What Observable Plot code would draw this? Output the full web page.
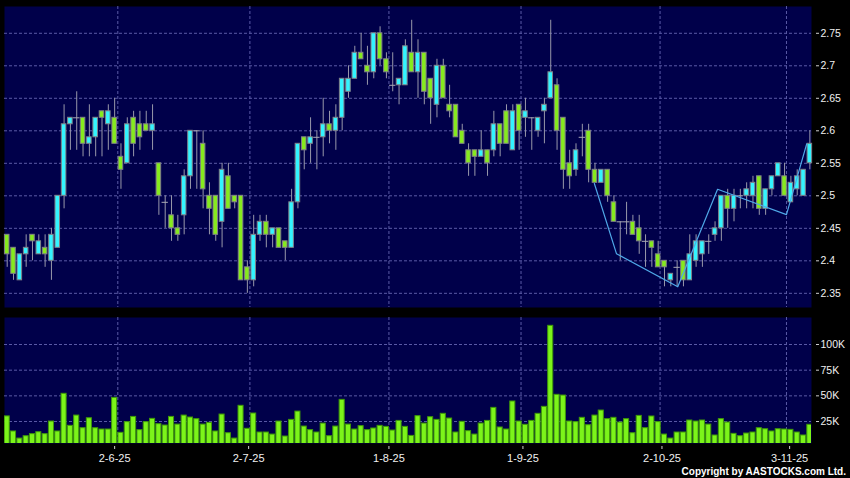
<!DOCTYPE html>
<html>
<head>
<meta charset="utf-8">
<script src="https://cdn.jsdelivr.net/npm/d3@7"></script>
<script src="https://cdn.jsdelivr.net/npm/@observablehq/plot@0.6"></script>
<style>
  html, body { margin: 0; padding: 0; background: #000; }
  #wrap { position: relative; width: 850px; height: 478px; background: #000; overflow: hidden; }
  #priceBox, #volBox { position: absolute; left: 0; }
  #priceBox { top: 0; }
  #volBox { top: 312px; }
  #copy { position: absolute; right: 4px; top: 466px; line-height: 12px; font: bold 10px "Liberation Sans", Arial, sans-serif; color: #fff; white-space: nowrap; }
</style>
</head>
<body>
<div id="wrap">
  <div id="priceBox"></div>
  <div id="volBox"></div>
  <div id="copy">Copyright by AASTOCKS.com Ltd.</div>
</div>
<script>
// ---- Data, one entry per trading day ----
const openPrice = [2.44,2.42,2.37,2.41,2.44,2.41,2.42,2.40,2.42,2.50,2.61,2.62,2.62,2.58,2.59,2.63,2.61,2.62,2.56,2.55,
  2.62,2.61,2.61,2.60,2.55,2.49,2.47,2.45,2.47,2.53,2.60,2.58,2.50,2.50,2.46,2.53,2.50,2.50,2.39,2.37,
  2.44,2.46,2.44,2.45,2.43,2.42,2.49,2.59,2.58,2.59,2.59,2.61,2.60,2.62,2.66,2.68,2.72,2.70,2.69,2.75,
  2.71,2.67,2.67,2.67,2.72,2.69,2.72,2.68,2.64,2.70,2.64,2.64,2.60,2.57,2.57,2.56,2.57,2.57,2.61,2.63,
  2.57,2.64,2.62,2.62,2.60,2.63,2.65,2.67,2.62,2.55,2.54,2.59,2.60,2.54,2.52,2.54,2.49,2.46,2.46,2.46,
  2.45,2.43,2.43,2.41,2.40,2.37,2.39,2.40,2.37,2.40,2.41,2.43,2.44,2.45,2.50,2.48,2.50,2.50,2.50,2.53,
  2.48,2.51,2.53,2.53,2.49,2.51,2.50,2.55];
const highPrice = [2.44,2.42,2.41,2.44,2.44,2.44,2.44,2.45,2.50,2.64,2.62,2.66,2.62,2.64,2.62,2.63,2.64,2.65,2.58,2.62,
  2.63,2.63,2.63,2.64,2.55,2.50,2.50,2.47,2.54,2.60,2.60,2.60,2.52,2.50,2.55,2.55,2.50,2.50,2.40,2.47,
  2.47,2.47,2.45,2.45,2.43,2.51,2.58,2.59,2.62,2.60,2.65,2.63,2.64,2.68,2.70,2.73,2.75,2.73,2.75,2.76,
  2.72,2.72,2.68,2.74,2.77,2.74,2.72,2.68,2.71,2.71,2.67,2.64,2.61,2.58,2.57,2.60,2.57,2.63,2.61,2.64,
  2.64,2.64,2.65,2.62,2.62,2.65,2.77,2.68,2.62,2.57,2.58,2.61,2.61,2.55,2.54,2.54,2.50,2.46,2.49,2.47,
  2.47,2.44,2.43,2.43,2.40,2.38,2.40,2.40,2.44,2.44,2.43,2.44,2.46,2.50,2.51,2.51,2.51,2.52,2.53,2.53,
  2.51,2.53,2.55,2.55,2.53,2.54,2.54,2.60];
const lowPrice = [2.39,2.37,2.37,2.39,2.40,2.41,2.39,2.37,2.42,2.48,2.57,2.57,2.56,2.56,2.56,2.56,2.57,2.58,2.51,2.55,
  2.56,2.57,2.60,2.57,2.47,2.45,2.43,2.43,2.44,2.51,2.51,2.48,2.44,2.43,2.42,2.48,2.48,2.37,2.35,2.36,
  2.43,2.42,2.42,2.42,2.40,2.42,2.48,2.54,2.55,2.54,2.56,2.58,2.57,2.60,2.65,2.68,2.71,2.67,2.68,2.70,
  2.68,2.66,2.64,2.67,2.69,2.65,2.64,2.61,2.62,2.65,2.62,2.59,2.58,2.53,2.53,2.56,2.53,2.56,2.56,2.58,
  2.57,2.57,2.59,2.57,2.59,2.58,2.65,2.57,2.51,2.51,2.53,2.56,2.52,2.52,2.52,2.49,2.46,2.40,2.44,2.44,
  2.41,2.39,2.39,2.39,2.36,2.36,2.36,2.36,2.37,2.39,2.39,2.41,2.43,2.43,2.45,2.46,2.48,2.48,2.48,2.47,
  2.47,2.50,2.53,2.50,2.49,2.50,2.50,2.54];
const closePrice = [2.41,2.38,2.41,2.42,2.43,2.43,2.41,2.44,2.50,2.61,2.62,2.62,2.58,2.59,2.62,2.62,2.63,2.58,2.54,2.61,
  2.58,2.59,2.60,2.61,2.50,2.49,2.45,2.44,2.53,2.60,2.60,2.51,2.48,2.44,2.54,2.48,2.49,2.37,2.37,2.44,
  2.46,2.44,2.45,2.42,2.42,2.49,2.58,2.57,2.59,2.59,2.61,2.60,2.62,2.68,2.68,2.72,2.71,2.69,2.75,2.71,
  2.69,2.67,2.68,2.73,2.69,2.72,2.66,2.65,2.70,2.65,2.63,2.59,2.58,2.55,2.56,2.57,2.55,2.61,2.58,2.58,
  2.63,2.60,2.63,2.62,2.62,2.64,2.69,2.60,2.54,2.53,2.57,2.59,2.54,2.52,2.54,2.50,2.46,2.46,2.46,2.44,
  2.43,2.43,2.42,2.39,2.39,2.38,2.39,2.37,2.41,2.43,2.43,2.43,2.45,2.50,2.48,2.50,2.50,2.51,2.52,2.48,
  2.51,2.53,2.55,2.50,2.52,2.53,2.54,2.58];
// volume in thousands of shares
const volumeK = [30,15.3,8.4,10.7,12.7,14.6,12.7,25,15.3,52,20.8,30.8,18.5,28.2,18.5,17.2,17.2,48,14,24.4,
  29.5,16.6,24.4,27.6,22.4,21.1,29.5,22,30.8,28.9,27.3,22,23.7,15.3,31.8,13.6,8.4,40.3,17.9,32.8,
  14.3,14.3,12.3,25,10.4,26.6,34.7,20.1,16.6,14.3,23,10.7,20.1,46.1,22,17.2,20.5,16.6,18.2,20.8,
  19.8,16.2,25.6,19.8,11,30.2,23,29.2,26.6,32.5,27.9,14.3,24.7,15.6,12.3,23,25.6,38.3,19.2,17.2,
  44.5,25,21.8,25.6,32.5,39.3,118.2,51,50.3,25,24.4,28.6,21.4,30.8,35.7,27.3,28.6,24,27.3,13.6,
  30.5,18.5,29.9,24.4,12.3,8.4,14.3,14.3,26,25,26,22,11.4,27.3,24,13,10.7,13.3,14.3,18.5,
  17.5,15.3,17.5,17.2,16.9,14.3,11.4,21.8];

// date axis labels and where they sit (in trading-day index units)
const tickLabels = ["2-6-25","2-7-25","1-8-25","1-9-25","2-10-25","3-11-25"];
const tickIndex = [17.0, 38.2, 60.4, 81.6, 103.6, 123.8];
const gridIndex = [17.5, 38.4, 60.4, 81.3, 103.3, 123.3];

const priceTicks = [2.35,2.4,2.45,2.5,2.55,2.6,2.65,2.7,2.75];
const volTicks = [25000,50000,75000,100000];
const volTickLabels = ["25K","50K","75K","100K"];

// overlay polyline (trend line drawn on the chart)
const lineIndex = [92.9, 96.4, 106.1, 112.4, 123.3, 126.5];
const linePrice = [2.519, 2.411, 2.36, 2.51, 2.471, 2.58];

// ---- Build ----
const candles = openPrice.map((o, i) => ({i, o, h: highPrice[i], l: lowPrice[i], c: closePrice[i], v: volumeK[i] * 1000}));
const bodies = candles.filter(d => d.o !== d.c);
const dojis = candles.filter(d => d.o === d.c);
const trend = lineIndex.map((x, k) => ({x, y: linePrice[k]}));

const NAVY = "#00004a";
const GRID = "#5a5aa6";
const CYAN = "#33f4ff";
const GREEN = "#86ea1e";
const FONT = '"Liberation Sans", Arial, sans-serif';
const xDomain = [-0.427, 127.26];
const fmtP = d => d3.format(".2~f")(d);

const priceChart = Plot.plot({
  width: 850, height: 312,
  marginLeft: 4, marginRight: 39, marginTop: 6, marginBottom: 5,
  style: {background: "transparent", color: "#e8e8e8", fontFamily: FONT, fontSize: "10.5px"},
  x: {domain: xDomain, axis: null},
  y: {domain: [2.3282, 2.7912], axis: null},
  color: {type: "identity"},
  marks: [
    Plot.frame({fill: NAVY, stroke: null}),
    Plot.ruleY(priceTicks, {stroke: GRID, strokeDasharray: "3,2"}),
    Plot.ruleX(gridIndex, {stroke: GRID, strokeDasharray: "3,2"}),
    Plot.ruleX(candles, {x: "i", y1: "l", y2: "h", stroke: "#9898aa", strokeWidth: 1}),
    Plot.rect(bodies, {
      x1: d => d.i - 0.36, x2: d => d.i + 0.36, y1: "o", y2: "c",
      fill: d => d.c > d.o ? CYAN : GREEN, stroke: "#808088", strokeWidth: 1
    }),
    Plot.ruleY(dojis, {y: "o", x1: d => d.i - 0.5, x2: d => d.i + 0.5, stroke: "#a8a8b4", strokeWidth: 1}),
    Plot.line(trend, {x: "x", y: "y", stroke: "#4fa8e8", strokeWidth: 1.2}),
    Plot.axisY(priceTicks, {anchor: "right", label: null, tickSize: 3, tickPadding: 2, dx: 4, tickFormat: fmtP, stroke: "#cfcfcf", fill: "#f0f0f0"})
  ]
});
document.getElementById("priceBox").appendChild(priceChart);

const volChart = Plot.plot({
  width: 850, height: 166,
  marginLeft: 4, marginRight: 39, marginTop: 5, marginBottom: 35,
  style: {background: "transparent", color: "#e8e8e8", fontFamily: FONT, fontSize: "10.5px"},
  x: {domain: xDomain, axis: null},
  y: {domain: [3600, 126300], axis: null},
  marks: [
    Plot.frame({fill: NAVY, stroke: null}),
    Plot.ruleY(volTicks, {stroke: GRID, strokeDasharray: "3,2"}),
    Plot.ruleX(gridIndex, {stroke: GRID, strokeDasharray: "3,2"}),
    Plot.rect(candles, {
      x1: d => d.i - 0.4, x2: d => d.i + 0.4, y1: d => 0, y2: "v",
      fill: "#7cf41a", stroke: "#3f9a08", strokeWidth: 1, clip: true
    }),
    Plot.axisY(volTicks, {anchor: "right", label: null, tickSize: 3, tickPadding: 2, dx: 4,
      tickFormat: d => volTickLabels[volTicks.indexOf(d)], stroke: "#cfcfcf", fill: "#f0f0f0"}),
    Plot.axisX(tickIndex, {anchor: "bottom", label: null, tickSize: 3, tickPadding: 5, dy: 3,
      tickFormat: d => tickLabels[tickIndex.indexOf(d)], stroke: "#cfcfcf", fill: "#f0f0f0", fontSize: 11})
  ]
});
document.getElementById("volBox").appendChild(volChart);
</script>
</body>
</html>
